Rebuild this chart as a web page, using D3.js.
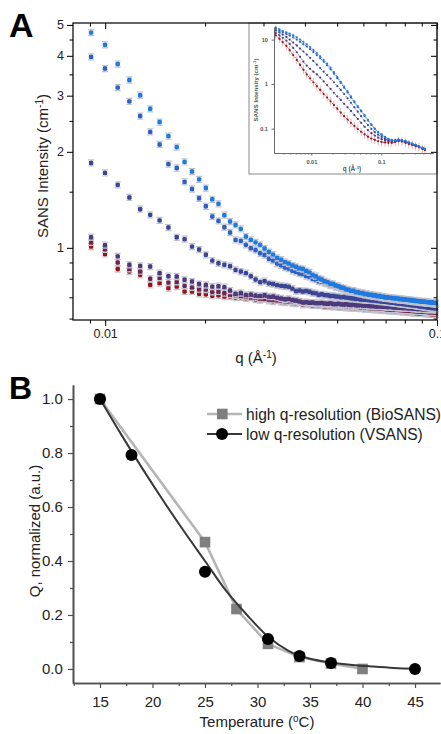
<!DOCTYPE html>
<html>
<head>
<meta charset="utf-8">
<script src="https://cdn.jsdelivr.net/npm/d3@7"></script>
<style>
body{margin:0;background:#fff;}
svg{display:block;font-family:"Liberation Sans",Arial,sans-serif;}
</style>
</head>
<body>
<div id="chart"></div>
<script>

// ---- panel A, main plot: q grid and the six temperature curves (cm^-1)
var qA = [0.00907,0.00999,0.01091,0.01183,0.01275,0.01367,0.01459,0.01551,0.01643,0.01735,
	0.01827,0.01919,0.02011,0.02103,0.02195,0.02287,0.02379,0.02471,0.02563,0.02655,
	0.02747,0.02839,0.02931,0.03023,0.03115,0.03207,0.03299,0.03391,0.03483,0.03575,
	0.03667,0.03759,0.03851,0.03943,0.04035,0.04127,0.04219,0.04311,0.04403,0.04495,
	0.04587,0.04679,0.04771,0.04863,0.04955,0.05047,0.05139,0.05231,0.05323,0.05415,
	0.05507,0.05599,0.05691,0.05783,0.05875,0.05967,0.06059,0.06151,0.06243,0.06335,
	0.06427,0.06519,0.06611,0.06703,0.06795,0.06887,0.06979,0.07071,0.07163,0.07255,
	0.07347,0.07439,0.07531,0.07623,0.07715,0.07807,0.07899,0.07991,0.08083,0.08175,
	0.08267,0.08359,0.08451,0.08543,0.08635,0.08727,0.08819,0.08911,0.09003,0.09095,
	0.09187,0.09279,0.09371,0.09463,0.09555,0.09647,0.09739,0.09831,0.09923];

var iBright = [4.73,4.33,3.77,3.36,3.01,2.73,2.48,2.24,2.07,1.86,
	1.735,1.64,1.54,1.42,1.374,1.266,1.209,1.18,1.147,1.085,
	1.059,1.04,1.022,0.995,0.97,0.952,0.93,0.918,0.902,0.893,
	0.88,0.872,0.862,0.858,0.846,0.838,0.822,0.815,0.802,0.796,
	0.786,0.781,0.772,0.77,0.762,0.758,0.751,0.748,0.741,0.739,
	0.733,0.734,0.727,0.726,0.721,0.722,0.716,0.717,0.712,0.713,
	0.709,0.71,0.705,0.707,0.702,0.703,0.699,0.7,0.697,0.698,
	0.695,0.696,0.693,0.694,0.69,0.692,0.689,0.69,0.687,0.688,
	0.685,0.686,0.683,0.684,0.681,0.682,0.68,0.68,0.678,0.679,
	0.677,0.677,0.675,0.676,0.674,0.674,0.672,0.673,0.671];

var iBlue = [3.97,3.65,3.18,2.88,2.59,2.31,2.11,1.83,1.78,1.61,
	1.53,1.43,1.35,1.254,1.215,1.161,1.117,1.059,1.052,1.022,
	0.998,0.985,0.962,0.95,0.924,0.912,0.893,0.882,0.868,0.861,
	0.847,0.841,0.83,0.827,0.816,0.811,0.8,0.796,0.785,0.782,
	0.775,0.771,0.763,0.761,0.753,0.751,0.745,0.743,0.737,0.735,
	0.73,0.729,0.724,0.723,0.718,0.718,0.713,0.713,0.709,0.709,
	0.705,0.706,0.702,0.703,0.699,0.699,0.696,0.697,0.693,0.694,
	0.691,0.692,0.689,0.69,0.686,0.688,0.685,0.686,0.683,0.684,
	0.681,0.682,0.679,0.68,0.677,0.678,0.676,0.676,0.674,0.675,
	0.673,0.673,0.671,0.672,0.67,0.67,0.668,0.669,0.667];

var iNavy = [1.846,1.718,1.576,1.439,1.322,1.269,1.219,1.158,1.079,1.065,
	1.009,0.988,0.951,0.912,0.895,0.885,0.876,0.853,0.843,0.833,
	0.815,0.796,0.781,0.786,0.774,0.77,0.764,0.76,0.758,0.755,
	0.745,0.732,0.735,0.73,0.732,0.728,0.722,0.72,0.713,0.715,
	0.711,0.71,0.706,0.707,0.704,0.703,0.7,0.701,0.698,0.697,
	0.695,0.694,0.691,0.692,0.689,0.689,0.687,0.687,0.685,0.685,
	0.683,0.683,0.681,0.681,0.679,0.679,0.677,0.676,0.675,0.674,
	0.672,0.672,0.67,0.67,0.668,0.668,0.666,0.666,0.664,0.664,
	0.662,0.662,0.66,0.66,0.658,0.658,0.656,0.656,0.654,0.654,
	0.652,0.652,0.65,0.65,0.649,0.648,0.647,0.647,0.646];

var iPurple = [1.08,1.02,0.94,0.885,0.878,0.874,0.833,0.815,0.813,0.794,
	0.784,0.77,0.765,0.756,0.758,0.753,0.735,0.718,0.722,0.712,
	0.714,0.709,0.707,0.71,0.703,0.704,0.698,0.694,0.69,0.692,
	0.686,0.684,0.679,0.674,0.676,0.673,0.674,0.671,0.671,0.672,
	0.669,0.668,0.67,0.667,0.666,0.668,0.665,0.664,0.666,0.663,
	0.662,0.664,0.661,0.66,0.662,0.659,0.658,0.66,0.657,0.656,
	0.658,0.655,0.655,0.656,0.654,0.653,0.655,0.652,0.652,0.653,
	0.651,0.65,0.652,0.649,0.649,0.65,0.648,0.647,0.649,0.646,
	0.646,0.647,0.645,0.644,0.646,0.643,0.643,0.644,0.642,0.642,
	0.643,0.641,0.641,0.642,0.64,0.64,0.641,0.639,0.639];

var iMaroon = [1.04,0.99,0.90,0.86,0.845,0.80,0.805,0.778,0.782,0.76,
	0.752,0.742,0.74,0.728,0.73,0.722,0.714,0.71,0.708,0.703,
	0.7,0.698,0.694,0.692,0.689,0.687,0.685,0.683,0.681,0.68,
	0.678,0.677,0.675,0.674,0.673,0.672,0.67,0.669,0.668,0.667,
	0.665,0.665,0.663,0.662,0.661,0.66,0.658,0.658,0.657,0.656,
	0.655,0.654,0.653,0.653,0.651,0.651,0.65,0.649,0.648,0.648,
	0.647,0.646,0.646,0.645,0.644,0.644,0.643,0.642,0.642,0.641,
	0.641,0.64,0.639,0.639,0.638,0.638,0.637,0.637,0.636,0.636,
	0.635,0.635,0.634,0.634,0.633,0.633,0.632,0.632,0.631,0.631,
	0.63,0.63,0.629,0.629,0.628,0.628,0.628,0.627,0.627];

var iRed = [1.01,0.957,0.858,0.843,0.823,0.766,0.775,0.748,0.756,0.73,
	0.73,0.718,0.715,0.708,0.71,0.703,0.704,0.698,0.7,0.695,
	0.697,0.689,0.686,0.69,0.682,0.679,0.683,0.676,0.674,0.677,
	0.671,0.669,0.672,0.663,0.666,0.664,0.661,0.662,0.659,0.66,
	0.656,0.657,0.655,0.653,0.655,0.652,0.651,0.653,0.649,0.65,
	0.648,0.649,0.646,0.647,0.645,0.646,0.643,0.644,0.642,0.643,
	0.64,0.641,0.639,0.64,0.637,0.638,0.636,0.637,0.635,0.635,
	0.634,0.634,0.632,0.633,0.631,0.631,0.63,0.63,0.629,0.629,
	0.627,0.628,0.626,0.626,0.625,0.625,0.624,0.624,0.623,0.623,
	0.622,0.622,0.621,0.621,0.62,0.62,0.619,0.619,0.618];

var relErrA = 0.022;

// ---- panel A, inset (full q range)
var qIn = [0.0031,0.0035,0.0039,0.0044,0.0049,0.0055,0.0062,0.0069,0.0077,0.0086,
	0.0096,0.0107,0.012,0.0134,0.015,0.0168,0.0188,0.021,0.0235,0.0263,
	0.0294,0.0329,0.0368,0.0412,0.046,0.0515,0.0576,0.0644,0.072,0.0806,
	0.09,0.101,0.113,0.126,0.141,0.158,0.176,0.197,0.221,0.247,
	0.276,0.309,0.345,0.386,0.42];
var inBright = [18.8,17,15.6,14.5,13.6,12.6,11.3,10,8.9,7.8,
	6.8,5.9,5.0,4.2,3.5,2.9,2.35,1.85,1.45,1.13,
	0.88,0.69,0.53,0.41,0.32,0.255,0.2,0.157,0.125,0.1,
	0.085,0.074,0.065,0.059,0.056,0.055,0.057,0.056,0.053,0.049,
	0.046,0.043,0.04,0.037,0.035];
var inBlue = [17.5,16,14.6,13.4,12.3,11.2,10,8.9,7.9,7,
	6.1,5.3,4.5,3.8,3.2,2.65,2.15,1.72,1.36,1.06,
	0.83,0.65,0.5,0.39,0.305,0.245,0.193,0.152,0.121,0.098,
	0.083,0.072,0.064,0.058,0.055,0.054,0.056,0.055,0.052,0.049,
	0.046,0.043,0.04,0.037,0.035];
var inNavy = [16,14.5,13,11.5,10,8.6,7.4,6.3,5.4,4.6,
	3.9,3.3,2.75,2.3,1.9,1.6,1.33,1.1,0.9,0.74,
	0.6,0.48,0.38,0.3,0.24,0.19,0.15,0.12,0.098,0.083,
	0.073,0.065,0.059,0.055,0.053,0.053,0.055,0.054,0.051,0.048,
	0.045,0.042,0.039,0.037,0.034];
var inPurple = [14,12.5,11,9.5,8,6.5,5.2,4.1,3.2,2.6,
	2.2,1.9,1.65,1.4,1.15,0.95,0.78,0.64,0.53,0.44,
	0.36,0.3,0.25,0.2,0.165,0.135,0.11,0.092,0.079,0.07,
	0.063,0.058,0.055,0.052,0.051,0.052,0.054,0.053,0.05,0.047,
	0.044,0.041,0.039,0.036,0.034];
var inRed = [12.5,10.5,8.8,7.2,5.8,4.5,3.5,2.7,2.1,1.65,
	1.35,1.1,0.9,0.74,0.6,0.5,0.41,0.34,0.28,0.23,
	0.19,0.16,0.135,0.115,0.098,0.085,0.074,0.066,0.06,0.056,
	0.052,0.05,0.049,0.048,0.048,0.05,0.052,0.051,0.048,0.045,
	0.043,0.04,0.038,0.035,0.033];

// ---- panel B: normalized Q vs temperature
var tempHigh = [15,25,28,31,34,37,40];
var qHigh = [1.0,0.47,0.222,0.093,0.044,0.02,0.0];
var tempLow = [15,18,25,31,34,37,45];
var qLow = [1.0,0.793,0.36,0.111,0.048,0.022,0.0];
// sigmoid fit drawn through the VSANS points
var fitTemp = [15,17,19,21,23,25,27,29,31,33,35,37,39,41,43,45];
var fitQ = [1.0,0.87,0.745,0.625,0.51,0.40,0.29,0.2,0.12,0.066,0.038,0.024,0.015,0.009,0.004,0.001];

var legendLabels = ['high q-resolution (BioSANS)','low q-resolution (VSANS)'];

var colorsA = ['#9c1218','#6e2350','#4c3a7c','#3b4595','#2d5fc4','#1f7ae0'];
var colorsIn = ['#9c1218','#4c3a7c','#3b4595','#2d5fc4','#1f7ae0'];

var W = 441, H = 734;

function init() {
	var svg = d3.select('#chart').append('svg')
		.attr('width', W).attr('height', H);
	drawA(svg);
	drawInset(svg);
	frameA(svg);
	drawB(svg);
}

function drawA(svg) {
	var box = {left:73, right:437, top:23, bottom:320};
	var x = d3.scaleLog().domain([0.0080, 0.1]).range([box.left, box.right]);
	var y = d3.scaleLog().domain([0.594, 5.07]).range([box.bottom, box.top]);
	svg.node().__xA = x; svg.node().__yA = y; svg.node().__boxA = box;

	var all = [iRed, iMaroon, iPurple, iNavy, iBlue, iBright];
	var g = svg.append('g');

	all.forEach(function(vals, k) {
		var pts = qA.map(function(q, i) { return {q:q, v:vals[i]}; });
		var s = g.append('g');
		s.selectAll('path').data(pts).enter().append('path')
			.attr('d', function(d) {
				var cx = x(d.q), y1 = y(d.v * (1 + relErrA)), y2 = y(d.v * (1 - relErrA));
				return 'M' + (cx - 3) + ',' + y1 + 'H' + (cx + 3) +
					'M' + cx + ',' + y1 + 'V' + y2 +
					'M' + (cx - 3) + ',' + y2 + 'H' + (cx + 3);
			})
			.attr('stroke', '#c2c2cf')
			.attr('stroke-width', 1.2)
			.attr('fill', 'none');
		s.selectAll('rect').data(pts).enter().append('rect')
			.attr('x', function(d) { return x(d.q) - 2.2; })
			.attr('y', function(d) { return y(d.v) - 2.2; })
			.attr('width', 4.4).attr('height', 4.4)
			.attr('rx', 1.2)
			.attr('fill', colorsA[k]);
	});
}

function drawInset(svg) {
	// white card with a grey border, sits in the top right corner of A
	svg.append('rect')
		.attr('x', 249).attr('y', 23).attr('width', 188).attr('height', 151)
		.attr('fill', '#fff').attr('stroke', '#8a8a8a').attr('stroke-width', 1);

	var box = {left:274, right:433, top:27, bottom:153};
	var x = d3.scaleLog().domain([0.00293, 0.547]).range([box.left, box.right]);
	var y = d3.scaleLog().domain([0.0283, 19.2]).range([box.bottom, box.top]);

	var all = [inRed, inPurple, inNavy, inBlue, inBright];
	all.forEach(function(vals, k) {
		var pts = qIn.map(function(q, i) { return {q:q, v:vals[i]}; });
		if (k === 0) {
			svg.append('g').selectAll('line').data(pts).enter().append('line')
				.attr('x1', function(d) { return x(d.q); })
				.attr('x2', function(d) { return x(d.q); })
				.attr('y1', function(d) { return y(d.v * 1.25); })
				.attr('y2', function(d) { return y(d.v / 1.25); })
				.attr('stroke', '#e3b7bb').attr('stroke-width', 1);
		}
		svg.append('path').datum(pts)
			.attr('d', d3.line().x(function(d) { return x(d.q); }).y(function(d) { return y(d.v); }))
			.attr('fill', 'none').attr('stroke', colorsIn[k])
			.attr('stroke-width', 0.8).attr('stroke-dasharray', '1.4,1.2');
		svg.append('g').selectAll('circle').data(pts).enter().append('circle')
			.attr('cx', function(d) { return x(d.q); })
			.attr('cy', function(d) { return y(d.v); })
			.attr('r', 1.1).attr('fill', colorsIn[k]);
	});

	var ax = '#6a6a6a';
	var gx = svg.append('g').attr('transform', 'translate(0,' + box.bottom + ')')
		.call(d3.axisBottom(x).tickValues([0.01, 0.1]).tickFormat(d3.format('')).tickSize(2.5).tickSizeOuter(0));
	svg.append('g').attr('transform', 'translate(0,' + box.bottom + ')')
		.call(d3.axisBottom(x).tickValues([0.004,0.005,0.006,0.007,0.008,0.009,0.02,0.03,0.04,0.05,0.06,0.07,0.08,0.09,0.2,0.3,0.4,0.5])
			.tickFormat('').tickSize(1.5).tickSizeOuter(0));
	var gy = svg.append('g').attr('transform', 'translate(' + box.left + ',0)')
		.call(d3.axisLeft(y).tickValues([0.1, 1, 10]).tickFormat(d3.format('')).tickSize(2.5).tickSizeOuter(0));
	[gx, gy].forEach(function(g) {
		g.selectAll('text').attr('font-size', 5.6).attr('fill', '#555').attr('font-weight', 'bold');
	});
	gx.selectAll('text').attr('dy', '0.9em');
	gy.selectAll('text').attr('dx', '-0.1em');
	svg.selectAll('.domain, .tick line').attr('stroke', ax);

	svg.append('text')
		.attr('transform', 'translate(258,90) rotate(-90)')
		.attr('text-anchor', 'middle').attr('font-size', 6.2).attr('font-weight', 'bold').attr('fill', '#555')
		.html('SANS Intensity (cm<tspan dy="-2" font-size="4.4">-1</tspan><tspan dy="2">)</tspan>');
	svg.append('text')
		.attr('x', 352).attr('y', 171)
		.attr('text-anchor', 'middle').attr('font-size', 6.4).attr('font-weight', 'bold').attr('fill', '#555')
		.html('q (Å<tspan dy="-2" font-size="4.4">-1</tspan><tspan dy="2">)</tspan>');
}

function frameA(svg) {
	var x = svg.node().__xA, y = svg.node().__yA, box = svg.node().__boxA;
	var g = svg.append('g').attr('class', 'frameA');

	var xMinor = [0.009,0.02,0.03,0.04,0.05,0.06,0.07,0.08,0.09];
	var yMinor = [0.6,0.7,0.8,0.9,1.5,2.5,3.5,4.5];

	var bottom = g.append('g').attr('transform', 'translate(0,' + box.bottom + ')');
	bottom.call(d3.axisBottom(x).tickValues([0.01, 0.1]).tickFormat(d3.format('')).tickSize(6).tickSizeOuter(0));
	bottom.append('g').call(d3.axisBottom(x).tickValues(xMinor).tickFormat('').tickSize(3.5).tickSizeOuter(0));

	var top = g.append('g').attr('transform', 'translate(0,' + box.top + ')');
	top.call(d3.axisTop(x).tickValues([0.01, 0.1]).tickFormat('').tickSize(-6).tickSizeOuter(0));
	top.append('g').call(d3.axisTop(x).tickValues(xMinor).tickFormat('').tickSize(-3.5).tickSizeOuter(0));

	var left = g.append('g').attr('transform', 'translate(' + box.left + ',0)');
	left.call(d3.axisLeft(y).tickValues([1, 2, 3, 4, 5]).tickFormat(d3.format('')).tickSize(6).tickSizeOuter(0));
	left.append('g').call(d3.axisLeft(y).tickValues(yMinor).tickFormat('').tickSize(3.5).tickSizeOuter(0));

	var right = g.append('g').attr('transform', 'translate(' + box.right + ',0)');
	right.call(d3.axisRight(y).tickValues([1, 2, 3, 4, 5]).tickFormat('').tickSize(-6).tickSizeOuter(0));
	right.append('g').call(d3.axisRight(y).tickValues(yMinor).tickFormat('').tickSize(-3.5).tickSizeOuter(0));

	g.selectAll('.domain').remove();
	g.selectAll('.tick line').attr('stroke', '#111').attr('stroke-width', 1.1);
	g.selectAll('text').attr('font-size', 12.5).attr('fill', '#222').attr('font-family', '"Liberation Sans",Arial,sans-serif');

	g.append('rect')
		.attr('x', box.left).attr('y', box.top)
		.attr('width', box.right - box.left).attr('height', box.bottom - box.top)
		.attr('fill', 'none').attr('stroke', '#111').attr('stroke-width', 1.3);

	svg.append('text')
		.attr('transform', 'translate(47.5,166) rotate(-90)')
		.attr('text-anchor', 'middle').attr('font-size', 15).attr('fill', '#222')
		.html('SANS Intensity (cm<tspan dy="-5" font-size="10">-1</tspan><tspan dy="5">)</tspan>');
	svg.append('text')
		.attr('x', 256).attr('y', 363)
		.attr('text-anchor', 'middle').attr('font-size', 15).attr('fill', '#222')
		.html('q (Å<tspan dy="-5" font-size="10">-1</tspan><tspan dy="5">)</tspan>');

	svg.append('text')
		.attr('x', 9).attr('y', 37)
		.attr('font-size', 34).attr('font-weight', 'bold').attr('fill', '#000')
		.text('A');
}

function drawB(svg) {
	var box = {left:73, right:440, top:385, bottom:683};
	var x = d3.scaleLinear().domain([12.43, 47.38]).range([box.left, box.right]);
	var y = d3.scaleLinear().domain([-0.052, 1.052]).range([box.bottom, box.top]);
	var axisColor = '#505050';

	var gx = svg.append('g').attr('transform', 'translate(0,' + box.bottom + ')');
	gx.call(d3.axisBottom(x).tickValues([15,20,25,30,35,40,45]).tickFormat(d3.format('d')).tickSize(5).tickSizeOuter(0));
	gx.append('g').call(d3.axisBottom(x).tickValues([12.5,17.5,22.5,27.5,32.5,37.5,42.5,47.5]).tickFormat('').tickSize(3).tickSizeOuter(0));

	var gy = svg.append('g').attr('transform', 'translate(' + box.left + ',0)');
	gy.call(d3.axisLeft(y).tickValues([0,0.2,0.4,0.6,0.8,1.0]).tickFormat(d3.format('.1f')).tickSize(5).tickSizeOuter(0));
	gy.append('g').call(d3.axisLeft(y).tickValues([0.1,0.3,0.5,0.7,0.9]).tickFormat('').tickSize(3).tickSizeOuter(0));

	[gx, gy].forEach(function(g) {
		g.selectAll('.domain').attr('stroke', axisColor).attr('stroke-width', 1.6);
		g.selectAll('.tick line').attr('stroke', axisColor).attr('stroke-width', 1.2);
		g.selectAll('text').attr('font-size', 15).attr('fill', '#222').attr('font-family', '"Liberation Sans",Arial,sans-serif');
	});
	gx.selectAll('text').attr('dy', '1.05em');
	gy.selectAll('text').attr('dx', '-0.15em');

	var lineHigh = d3.line()
		.x(function(d) { return x(d[0]); })
		.y(function(d) { return y(d[1]); });
	var lineFit = d3.line()
		.x(function(d) { return x(d[0]); })
		.y(function(d) { return y(d[1]); })
		.curve(d3.curveMonotoneX);

	// high q-resolution: grey line through the squares
	var high = tempHigh.map(function(t, i) { return [t, qHigh[i]]; });
	svg.append('path').datum(high)
		.attr('d', lineHigh).attr('fill', 'none')
		.attr('stroke', '#b5b5b5').attr('stroke-width', 2.6)
		.attr('stroke-linejoin', 'round');
	svg.append('g').selectAll('rect').data(high).enter().append('rect')
		.attr('x', function(d) { return x(d[0]) - 5.3; })
		.attr('y', function(d) { return y(d[1]) - 5.3; })
		.attr('width', 10.6).attr('height', 10.6)
		.attr('fill', '#7f7f7f');

	// low q-resolution: fit curve and black circles
	var fit = fitTemp.map(function(t, i) { return [t, fitQ[i]]; });
	svg.append('path').datum(fit)
		.attr('d', lineFit).attr('fill', 'none')
		.attr('stroke', '#383838').attr('stroke-width', 2);
	var low = tempLow.map(function(t, i) { return [t, qLow[i]]; });
	svg.append('g').selectAll('circle').data(low).enter().append('circle')
		.attr('cx', function(d) { return x(d[0]); })
		.attr('cy', function(d) { return y(d[1]); })
		.attr('r', 6).attr('fill', '#000');

	// legend
	var lg = svg.append('g');
	var rows = lg.selectAll('g').data(legendLabels).enter().append('g')
		.attr('transform', function(d, i) { return 'translate(0,' + (414 + i * 20) + ')'; });
	rows.append('line')
		.attr('x1', 207).attr('x2', 242).attr('y1', 0).attr('y2', 0)
		.attr('stroke', function(d, i) { return i === 0 ? '#b5b5b5' : '#383838'; })
		.attr('stroke-width', function(d, i) { return i === 0 ? 2.6 : 2; });
	rows.filter(function(d, i) { return i === 0; }).append('rect')
		.attr('x', 217).attr('y', -5.3).attr('width', 10.6).attr('height', 10.6).attr('fill', '#7f7f7f');
	rows.filter(function(d, i) { return i === 1; }).append('circle')
		.attr('cx', 222).attr('cy', 0).attr('r', 6).attr('fill', '#000');
	rows.append('text')
		.attr('x', 246).attr('y', 5.5)
		.attr('font-size', 15.6).attr('fill', '#222')
		.text(function(d) { return d; });

	svg.append('text')
		.attr('transform', 'translate(39.5,531) rotate(-90)')
		.attr('text-anchor', 'middle').attr('font-size', 15).attr('fill', '#222')
		.text('Q, normalized (a.u.)');
	svg.append('text')
		.attr('x', 257).attr('y', 727)
		.attr('text-anchor', 'middle').attr('font-size', 15).attr('fill', '#222')
		.html('Temperature (<tspan dy="-5" font-size="10">o</tspan><tspan dy="5">C)</tspan>');

	svg.append('text')
		.attr('x', 9).attr('y', 399)
		.attr('font-size', 32).attr('font-weight', 'bold').attr('fill', '#000')
		.text('B');
}

init();
</script>
</body>
</html>
